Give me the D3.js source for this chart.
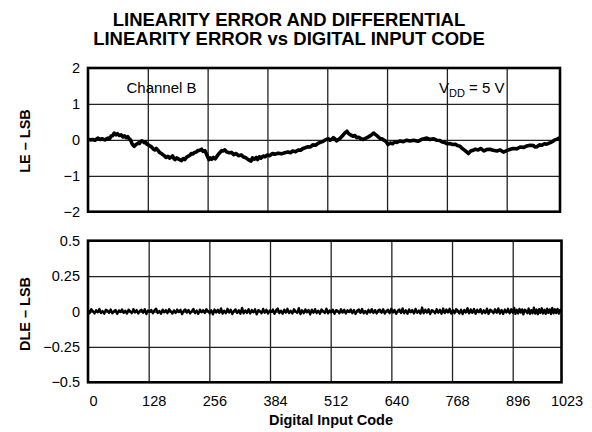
<!DOCTYPE html>
<html><head><meta charset="utf-8">
<script src="https://cdn.jsdelivr.net/npm/d3@7/dist/d3.min.js"></script>
<style>body{margin:0;background:#fff}svg{display:block}text{font-family:"Liberation Sans",Arial,sans-serif;fill:#000}</style>
</head><body><svg id="c" width="592" height="432"></svg>
<script>
const titleLines = ["LINEARITY ERROR AND DIFFERENTIAL", "LINEARITY ERROR vs DIGITAL INPUT CODE"];
const xTicks = [0,128,256,384,512,640,768,896,1023];
const leTicks = [-2,-1,0,1,2];
const leTickLabels = ["\u22122","\u22121","0","1","2"];
const dleTicks = [-0.5,-0.25,0,0.25,0.5];
const dleTickLabels = ["\u22120.5","\u22120.25","0","0.25","0.5"];
const leData = [[0,0.02],[5,0.0],[10,0.01],[15,-0.01],[21,0.05],[26,0.01],[30,0.03],[36,0.0],[43,0.05],[46,0.03],
[49,0.1],[53,0.12],[56,0.19],[60,0.14],[63,0.17],[67,0.12],[71,0.14],[75,0.08],[78,0.11],[82,0.06],
[85,0.09],[88,0.03],[91,0.0],[94,-0.1],[96,-0.14],[99,-0.18],[101,-0.15],[104,-0.12],[107,-0.09],[110,-0.1],
[112,-0.06],[115,-0.03],[118,-0.05],[121,-0.08],[123,-0.06],[126,-0.12],[129,-0.14],[133,-0.17],[136,-0.2],[140,-0.26],
[143,-0.28],[146,-0.24],[148,-0.27],[151,-0.31],[153,-0.35],[157,-0.38],[160,-0.41],[163,-0.44],[167,-0.49],[171,-0.46],
[175,-0.51],[178,-0.48],[181,-0.45],[184,-0.52],[186,-0.55],[190,-0.50],[193,-0.53],[197,-0.56],[200,-0.58],[204,-0.52],
[207,-0.55],[211,-0.48],[214,-0.46],[218,-0.43],[221,-0.38],[225,-0.39],[228,-0.35],[232,-0.34],[235,-0.30],[239,-0.29],
[243,-0.26],[246,-0.32],[250,-0.30],[253,-0.38],[256,-0.47],[259,-0.55],[261,-0.5],[265,-0.54],[268,-0.49],[272,-0.53],
[275,-0.48],[279,-0.40],[282,-0.36],[286,-0.30],[289,-0.31],[293,-0.28],[297,-0.34],[302,-0.36],[307,-0.35],[312,-0.41],
[317,-0.38],[322,-0.44],[328,-0.42],[333,-0.48],[338,-0.50],[343,-0.55],[349,-0.59],[352,-0.50],[356,-0.54],[360,-0.49],
[363,-0.55],[367,-0.47],[370,-0.51],[375,-0.45],[379,-0.47],[384,-0.42],[389,-0.44],[395,-0.38],[400,-0.40],[407,-0.37],
[414,-0.39],[421,-0.36],[428,-0.34],[433,-0.36],[438,-0.31],[444,-0.33],[450,-0.28],[455,-0.29],[460,-0.24],[465,-0.22],
[471,-0.19],[476,-0.20],[481,-0.14],[487,-0.15],[492,-0.10],[497,-0.07],[502,-0.05],[508,0.0],[514,0.03],[518,-0.01],
[521,0.01],[525,0.06],[528,0.03],[532,-0.03],[536,0.01],[540,0.05],[545,0.12],[549,0.18],[554,0.24],[558,0.17],
[563,0.13],[567,0.10],[571,0.12],[575,0.06],[580,0.07],[584,0.03],[589,0.01],[595,0.05],[601,0.09],[607,0.14],
[611,0.19],[614,0.16],[619,0.11],[622,0.07],[625,0.04],[629,0.03],[632,0.0],[636,-0.03],[639,-0.07],[642,-0.13],
[647,-0.09],[652,-0.11],[656,-0.06],[661,-0.07],[668,-0.03],[675,-0.05],[682,-0.01],[689,-0.03],[697,-0.01],[706,-0.04],
[715,0.02],[725,0.05],[732,0.01],[739,0.03],[746,-0.01],[753,-0.02],[758,-0.06],[763,-0.07],[768,-0.11],[774,-0.10],
[780,-0.13],[786,-0.12],[791,-0.16],[796,-0.18],[800,-0.23],[805,-0.28],[810,-0.33],[814,-0.38],[819,-0.31],[824,-0.29],
[829,-0.26],[835,-0.28],[841,-0.24],[847,-0.31],[853,-0.27],[860,-0.26],[867,-0.29],[875,-0.31],[882,-0.28],[889,-0.34],
[896,-0.30],[903,-0.27],[911,-0.24],[920,-0.25],[928,-0.20],[937,-0.21],[944,-0.17],[952,-0.15],[960,-0.16],[964,-0.20],
[968,-0.19],[974,-0.14],[980,-0.15],[986,-0.11],[991,-0.12],[997,-0.09],[1002,-0.07],[1007,-0.03],[1011,0.0],[1016,0.02],
[1023,0.06]];
const dleValues = [
0.010,-0.012,0.016,0.004,-0.014,0.009,-0.006,0.018,-0.011,0.003,-0.016,0.012,0.007,-0.009,0.014,-0.013,0.002,0.011,-0.017,0.008,
-0.004,0.015,-0.010,0.006,-0.015,0.013,0.001,-0.012,0.017,-0.007,0.010,-0.014,0.005,0.012,-0.009,0.016,-0.018,0.007,-0.003,0.011,
-0.013,0.009,0.020,-0.011,0.004,-0.016,0.013,-0.006,0.010,-0.012,0.017,0.002,-0.015,0.008,-0.010,0.014,-0.004,0.012,-0.019,0.006,
0.015,-0.008,0.011,-0.014,0.003,0.018,-0.012,0.007,-0.017,0.013,-0.005,0.010,-0.011,0.016,0.004,-0.013,0.009,-0.020,0.014,-0.007,
0.012,-0.010,0.022,-0.015,0.006,-0.012,0.019,-0.008,0.013,-0.018,0.005,0.015,-0.011,0.009,-0.016,0.026,-0.013,0.008,-0.010,0.017,
-0.014,0.011,-0.006,0.016,-0.020,0.010,0.003,-0.013,0.018,-0.009,0.012,-0.015,0.007,-0.004,0.014,-0.017,0.010,0.021,-0.012,0.006,
-0.016,0.013,-0.008,0.019,-0.011,0.005,-0.014,0.016,0.002,-0.010,0.024,-0.018,0.009,-0.012,0.015,-0.006,0.011,-0.021,0.013,-0.009,
0.017,-0.012,0.006,-0.016,0.014,0.003,-0.011,0.020,-0.014,0.008,-0.007,0.013,-0.017,0.010,0.005,-0.013,0.016,-0.008,0.012,-0.015,
0.009,-0.004,0.015,-0.012,0.011,-0.018,0.007,0.014,-0.010,0.018,-0.013,0.004,-0.016,0.012,-0.007,0.017,-0.011,0.010,-0.014,0.008,
0.013,-0.009,0.016,-0.015,0.005,0.012,-0.012,0.019,-0.008,0.011,-0.017,0.006,0.014,-0.011,0.022,-0.013,0.009,-0.016,0.015,-0.005,
0.011,-0.014,0.018,-0.010,0.007,-0.015,0.028,-0.012,0.013,-0.008,0.016,-0.018,0.010,0.004,-0.013,0.017,-0.009,0.012,-0.016,0.021,
-0.011,0.014,-0.007,0.019,-0.015,0.010,-0.012,0.016,0.006,-0.014,0.013,-0.019,0.011,-0.008,0.024,-0.013,0.015,-0.010,0.018,-0.016,
0.012,-0.006,0.017,-0.014,0.009,-0.011,0.020,-0.017,0.013,0.005,-0.012,0.016,-0.009,0.022,-0.015,0.011,-0.018,0.014,-0.007,0.019,
-0.013,0.016,-0.010,0.025,-0.017,0.012,-0.014,0.018,-0.008,0.015,-0.020,0.013,0.007,-0.012,0.021,-0.016,0.010,-0.013,0.027,-0.015,
0.014,-0.019,0.017,-0.011,0.023,-0.014,0.012,-0.017,0.020,-0.010,0.015,-0.018,0.026,-0.013,0.016,-0.012,0.019,-0.015,0.011,-0.009];

const svg = d3.select("#c");
svg.append("rect").attr("width",592).attr("height",432).attr("fill","#fff");

svg.selectAll("text.title").data(titleLines).join("text")
  .attr("class","title").attr("x",289).attr("y",(d,i)=>26+i*19)
  .attr("text-anchor","middle").attr("font-weight","bold").attr("font-size",18.5)
  .text(d=>d);

const left = 88;
const xTop = d3.scaleLinear().domain([0,896,1023]).range([left,506.7,560]);
const xBot = d3.scaleLinear().domain([0,896,1023]).range([left,512.7,561.5]);
const yTop = d3.scaleLinear().domain([-2,2]).range([211.7,68]);
const yBot = d3.scaleLinear().domain([-0.5,0.5]).range([382.3,240.7]);

function panel(x, y, yt, ylabels, gridY, ylab, labY) {
  const g = svg.append("g");
  const x0 = x.range()[0], x1 = x.range()[2];
  const y0 = y.range()[1], y1 = y.range()[0];
  g.append("g").attr("transform",`translate(0,${y1})`)
    .call(d3.axisBottom(x).tickValues(xTicks.slice(1,-1)).tickSize(-(y1-y0)).tickFormat(""))
    .call(s=>{s.select(".domain").remove(); s.selectAll("line").attr("stroke","#222").attr("stroke-width",1.3);});
  g.append("g").attr("transform",`translate(${x0},0)`)
    .call(d3.axisLeft(y).tickValues(gridY).tickSize(-(x1-x0)).tickFormat(""))
    .call(s=>{s.select(".domain").remove(); s.selectAll("line").attr("stroke","#222").attr("stroke-width",1.3);});
  g.append("g").attr("transform",`translate(${x0},0)`)
    .call(d3.axisLeft(y).tickValues(yt).tickSize(0).tickPadding(8).tickFormat((d,i)=>ylabels[i]))
    .call(s=>{s.select(".domain").remove(); s.selectAll("text").attr("font-size",14.5).attr("font-family",'"Liberation Sans",Arial,sans-serif').attr("fill","#000");});
  g.append("text").attr("transform",`translate(30,${labY}) rotate(-90)`)
    .attr("text-anchor","middle").attr("font-weight","bold").attr("font-size",14.5).text(ylab);
  return {g, x0, x1, y0, y1};
}

const p1 = panel(xTop, yTop, leTicks, leTickLabels, [-1,0,1], "LE \u2013 LSB", 141);
const p2 = panel(xBot, yBot, dleTicks, dleTickLabels, [-0.25,0,0.25], "DLE \u2013 LSB", 314);

const leLine = d3.line().x(d=>xTop(d[0])).y(d=>yTop(d[1]));
p1.g.append("path").datum(leData).attr("d",leLine).attr("fill","none").attr("stroke","#000")
  .attr("stroke-width",3.6).attr("stroke-linejoin","round");
const n = dleValues.length;
const dleLine = d3.line().x((d,i)=>xBot(i*1023/(n-1))).y(d=>yBot(d));
p2.g.append("path").datum(dleValues).attr("d",dleLine).attr("fill","none").attr("stroke","#000")
  .attr("stroke-width",2.3).attr("stroke-linejoin","round");

[p1,p2].forEach(p=>{
  p.g.append("rect").attr("x",p.x0).attr("y",p.y0).attr("width",p.x1-p.x0).attr("height",p.y1-p.y0)
    .attr("fill","none").attr("stroke","#000").attr("stroke-width",2.6);
});

svg.append("g").attr("transform",`translate(5,${p2.y1})`)
  .call(d3.axisBottom(xBot).tickValues(xTicks).tickSize(0).tickPadding(13).tickFormat(d3.format("d")))
  .call(s=>{s.select(".domain").remove(); s.selectAll("text").attr("font-size",14.5).attr("font-family",'"Liberation Sans",Arial,sans-serif').attr("fill","#000");});
svg.append("text").attr("x",331).attr("y",425).attr("text-anchor","middle")
  .attr("font-weight","bold").attr("font-size",14.5).text("Digital Input Code");

svg.append("text").attr("x",126.5).attr("y",93.3).attr("font-size",15).text("Channel B");
const vdd = svg.append("text").attr("x",439).attr("y",93.3).attr("font-size",15);
vdd.append("tspan").text("V");
vdd.append("tspan").attr("font-size",11).attr("dy",4).text("DD");
vdd.append("tspan").attr("dy",-4).text(" = 5 V");
</script></body></html>
